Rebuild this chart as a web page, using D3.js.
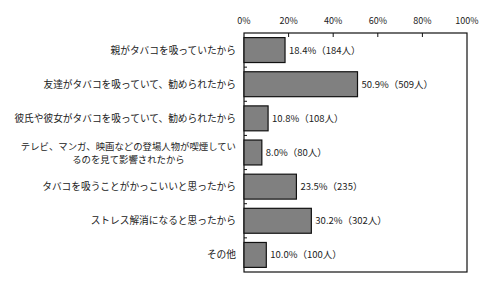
<!DOCTYPE html>
<html>
<head>
<meta charset="utf-8">
<script src="https://cdn.jsdelivr.net/npm/d3@7"></script>
<style>
  body { margin: 0; background: #fff; }
  text { font-family: "Noto Sans CJK JP", "Noto Sans", sans-serif; fill: #222; }
</style>
</head>
<body>
<script>
// reasons for starting to smoke
const categories = [
    ["親がタバコを吸っていたから"],
    ["友達がタバコを吸っていて、勧められたから"],
    ["彼氏や彼女がタバコを吸っていて、勧められたから"],
    ["テレビ、マンガ、映画などの登場人物が喫煙してい", "るのを見て影響されたから"],
    ["タバコを吸うことがかっこいいと思ったから"],
    ["ストレス解消になると思ったから"],
    ["その他"]
];
const percents = [18.4, 50.9, 10.8, 8.0, 23.5, 30.2, 10.0];
const counts = ["184人", "509人", "108人", "80人", "235", "302人", "100人"];
const ticks = [0, 20, 40, 60, 80, 100];

const width = 480, height = 281;
const plotL = 244, plotR = 467, plotT = 33, plotB = 272;

const svg = d3.select("body").append("svg")
    .attr("width", width)
    .attr("height", height);

const x = d3.scaleLinear().domain([0, 100]).range([plotL, plotR]);
const y = d3.scaleBand().domain(d3.range(categories.length)).range([plotT, plotB]).paddingInner(0.27).paddingOuter(0.135);

// frame
svg.append("rect")
    .attr("x", plotL).attr("y", plotT)
    .attr("width", plotR - plotL).attr("height", plotB - plotT)
    .attr("fill", "none").attr("stroke", "#111").attr("stroke-width", 1.2);

// top axis ticks
svg.selectAll(".xtick").data(ticks.slice(1, -1)).join("line")
    .attr("x1", d => x(d)).attr("x2", d => x(d))
    .attr("y1", plotT).attr("y2", plotT + 4)
    .attr("stroke", "#111");

svg.selectAll(".xlab").data(ticks).join("text")
    .attr("x", d => x(d)).attr("y", 24)
    .attr("text-anchor", "middle")
    .attr("font-size", 9)
    .text(d => d + "%");

// category boundary ticks on left axis
const step = (plotB - plotT) / categories.length;
svg.selectAll(".ytick").data(d3.range(1, categories.length)).join("line")
    .attr("x1", plotL).attr("x2", plotL + 3)
    .attr("y1", d => plotT + d * step).attr("y2", d => plotT + d * step)
    .attr("stroke", "#111");

// bars
svg.selectAll(".bar").data(percents).join("rect")
    .attr("x", x(0))
    .attr("y", (d, i) => y(i))
    .attr("width", d => x(d) - x(0))
    .attr("height", y.bandwidth())
    .attr("fill", "#808080")
    .attr("stroke", "#111")
    .attr("stroke-width", 1.2);

// value labels
svg.selectAll(".val").data(percents).join("text")
    .attr("x", d => x(d) + 4)
    .attr("y", (d, i) => y(i) + y.bandwidth() / 2 + 3.5)
    .attr("font-size", 9.5)
    .text((d, i) => d.toFixed(1) + "%（" + counts[i] + "）");

// category labels, multi-line ones centred as a block
const labelRight = 236;
categories.forEach((lines, i) => {
    const cy = y(i) + y.bandwidth() / 2;
    const g = svg.append("g");
    const lh = 13;
    const t = g.selectAll("text").data(lines).join("text")
        .attr("font-size", lines.length > 1 ? 9.4 : 9.7)
        .attr("y", (d, j) => cy + 3.5 + (j - (lines.length - 1) / 2) * lh)
        .text(d => d);
    if (lines.length === 1) {
        t.attr("x", labelRight).attr("text-anchor", "end");
    } else {
        const w = d3.max(t.nodes(), n => n.getComputedTextLength());
        t.attr("x", labelRight - w / 2).attr("text-anchor", "middle");
    }
});
</script>
</body>
</html>
